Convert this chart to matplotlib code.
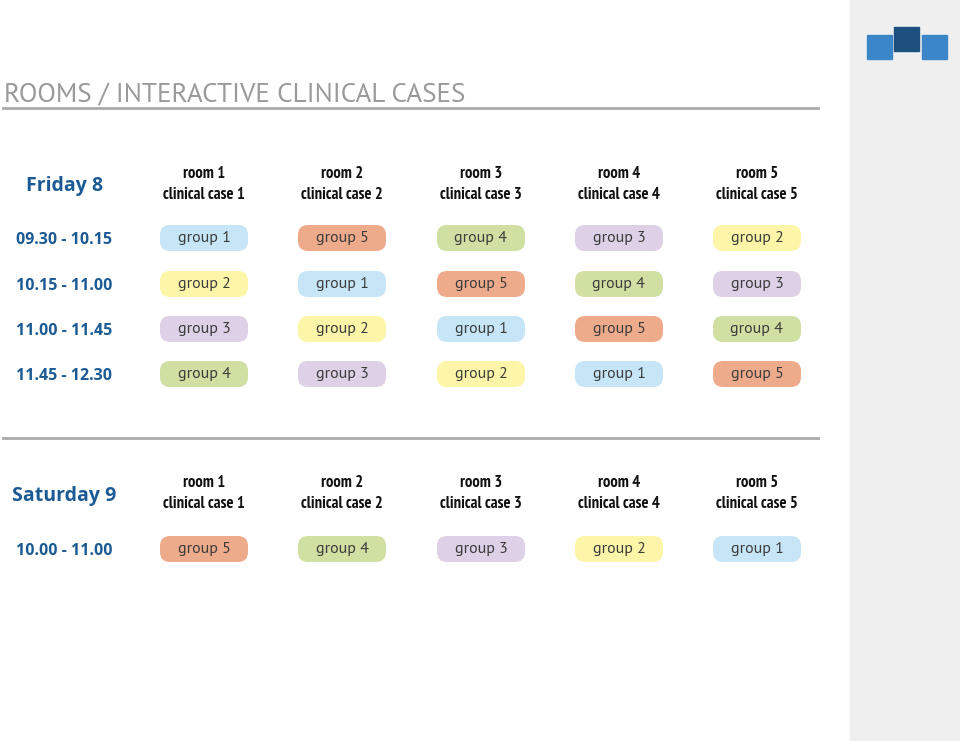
import matplotlib.pyplot as plt
from matplotlib.patches import FancyBboxPatch, Rectangle

# schedule data
rooms = ["room 1", "room 2", "room 3", "room 4", "room 5"]
cases = ["clinical case 1", "clinical case 2", "clinical case 3", "clinical case 4", "clinical case 5"]

friday_label = "Friday 8"
friday_times = ["09.30 - 10.15", "10.15 - 11.00", "11.00 - 11.45", "11.45 - 12.30"]
friday_groups = [
    [1, 5, 4, 3, 2],
    [2, 1, 5, 4, 3],
    [3, 2, 1, 5, 4],
    [4, 3, 2, 1, 5],
]

saturday_label = "Saturday 9"
saturday_times = ["10.00 - 11.00"]
saturday_groups = [
    [5, 4, 3, 2, 1],
]

group_colors = {
    1: "#c6e6f8",
    2: "#fdf5a8",
    3: "#ddd0e7",
    4: "#cfe0a2",
    5: "#eeab8c",
}

BLUE = "#1b5a94"
TEXT = "#3c3c3c"
NARROW = ["PT Sans Narrow", "Fira Sans Condensed", "DejaVu Sans"]
MYRIAD = ["PT Sans", "Open Sans", "DejaVu Sans"]
BOLD = ["Open Sans", "DejaVu Sans"]

col_x = [204, 342, 481, 619, 757]
pill_w, pill_h = 88, 26

fig = plt.figure(figsize=(9.6, 7.41), dpi=100)
ax = fig.add_axes([0, 0, 1, 1])
ax.set_xlim(0, 960)
ax.set_ylim(741, 0)
ax.axis("off")

# grey side panel + logo
ax.add_patch(Rectangle((850, 0), 110, 741, color="#efefef", zorder=0))
ax.add_patch(Rectangle((867, 35), 25, 24, color="#3a86c8"))
ax.add_patch(Rectangle((894, 27), 25, 24, color="#1d4f7d"))
ax.add_patch(Rectangle((922, 35), 25, 24, color="#3a86c8"))

ax.text(4, 102, "ROOMS / INTERACTIVE CLINICAL CASES", fontsize=19.5, color="#9a9a9a",
        family=MYRIAD, va="baseline", ha="left")
ax.plot([3, 818], [108, 108], color="#aaaaaa", lw=2)
ax.plot([3, 818], [438, 438], color="#aaaaaa", lw=2)


def draw_day(label, y_head, times, groups, y_rows, head_shift):
    ax.text(64, y_head + 2, label, fontsize=14, fontweight="bold", color=BLUE,
            family=BOLD, ha="center", va="center")
    for i, x in enumerate(col_x):
        ax.text(x, y_head - 12 + head_shift, rooms[i], fontsize=12, fontweight="bold",
                color="#111111", family=NARROW, ha="center", va="center")
        ax.text(x, y_head + 9 + head_shift, cases[i], fontsize=12, fontweight="bold",
                color="#111111", family=NARROW, ha="center", va="center")
    for r, t in enumerate(times):
        y = y_rows[r]
        ax.text(64, y + 2, t, fontsize=11.5, fontweight="bold", color=BLUE,
                family=BOLD, ha="center", va="center")
        for c, g in enumerate(groups[r]):
            x = col_x[c]
            ax.add_patch(FancyBboxPatch((x - pill_w / 2, y - pill_h / 2), pill_w, pill_h,
                                        boxstyle="round,pad=0,rounding_size=10",
                                        fc=group_colors[g], ec="none"))
            ax.text(x, y, "group %d" % g, fontsize=11.5, color=TEXT,
                    family=MYRIAD, ha="center", va="center")


draw_day(friday_label, 184, friday_times, friday_groups, [238, 284, 329, 374], 2)
draw_day(saturday_label, 494, saturday_times, saturday_groups, [549], 1)

fig.savefig("out.png", dpi=100)
